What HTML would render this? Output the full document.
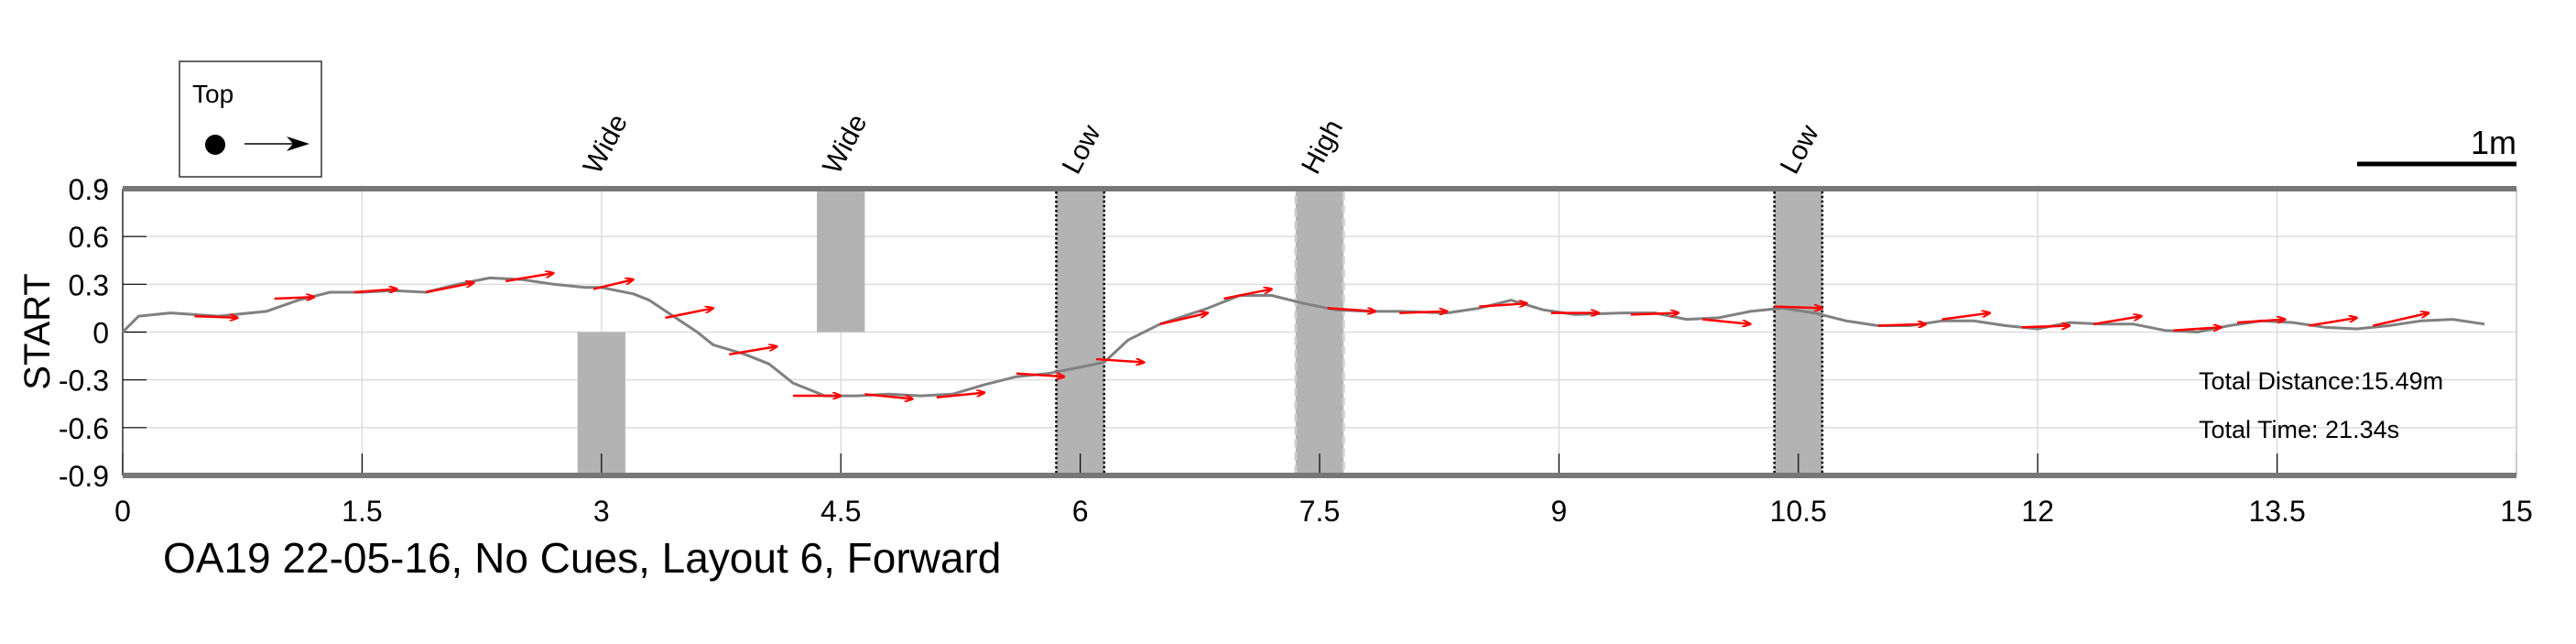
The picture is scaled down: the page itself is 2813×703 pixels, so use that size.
<!DOCTYPE html>
<html><head><meta charset="utf-8"><style>
html,body{margin:0;padding:0;background:#fff;}
svg{display:block;font-family:"Liberation Sans",sans-serif;}
</style></head><body>
<svg id="chart" width="2813" height="703" viewBox="0 0 2813 703">
</svg>
<script>
const xTicks=[0,1.5,3,4.5,6,7.5,9,10.5,12,13.5,15];
const xTickLabels=["0","1.5","3","4.5","6","7.5","9","10.5","12","13.5","15"];
const yTicks=[0.9,0.6,0.3,0,-0.3,-0.6,-0.9];
const yTickLabels=["0.9","0.6","0.3","0","-0.3","-0.6","-0.9"];
const pathX=[0,0.1,0.3,0.6,0.9,1.1,1.3,1.5,1.7,1.9,2.1,2.3,2.5,2.7,2.9,3.0,3.2,3.3,3.45,3.6,3.7,3.9,4.05,4.2,4.4,4.6,4.8,5.0,5.2,5.4,5.6,5.8,6.0,6.15,6.3,6.5,6.8,7.0,7.2,7.4,7.6,7.8,8.0,8.3,8.5,8.7,8.9,9.1,9.4,9.6,9.8,10.0,10.2,10.4,10.6,10.8,11.0,11.2,11.4,11.6,11.8,12.0,12.2,12.4,12.6,12.8,13.0,13.2,13.4,13.6,13.8,14.0,14.2,14.4,14.6,14.8];
const pathY=[0,0.1,0.12,0.1,0.13,0.2,0.25,0.25,0.26,0.25,0.3,0.34,0.33,0.3,0.28,0.28,0.24,0.2,0.1,0,-0.08,-0.14,-0.2,-0.32,-0.4,-0.4,-0.39,-0.4,-0.39,-0.33,-0.28,-0.26,-0.22,-0.19,-0.05,0.05,0.15,0.23,0.23,0.18,0.14,0.13,0.13,0.12,0.15,0.2,0.14,0.11,0.12,0.12,0.08,0.09,0.13,0.15,0.12,0.07,0.04,0.04,0.07,0.07,0.04,0.02,0.06,0.05,0.05,0.01,0.0,0.04,0.07,0.06,0.03,0.02,0.04,0.07,0.08,0.05];
const arrX0=[0.45,0.95,1.45,1.9,2.4,2.95,3.4,3.8,4.2,4.65,5.1,5.6,6.1,6.5,6.9,7.55,8.0,8.5,8.95,9.45,9.9,10.35,11.0,11.4,11.9,12.35,12.85,13.25,13.7,14.1];
const arrY0=[0.10,0.21,0.25,0.25,0.32,0.27,0.09,-0.14,-0.40,-0.39,-0.41,-0.26,-0.17,0.05,0.21,0.15,0.12,0.16,0.12,0.11,0.08,0.16,0.04,0.08,0.03,0.05,0.01,0.06,0.04,0.04];
const arrX1=[0.72,1.2,1.72,2.2,2.7,3.2,3.7,4.1,4.5,4.95,5.4,5.9,6.4,6.8,7.2,7.85,8.3,8.8,9.25,9.75,10.2,10.65,11.3,11.7,12.2,12.65,13.15,13.55,14.0,14.45];
const arrY1=[0.09,0.22,0.27,0.31,0.37,0.33,0.15,-0.09,-0.40,-0.42,-0.38,-0.28,-0.19,0.12,0.27,0.13,0.13,0.18,0.12,0.12,0.05,0.15,0.05,0.12,0.04,0.10,0.03,0.08,0.09,0.12];
const obsX=[3,4.5,6,7.5,10.5];
const obsY0=[-0.9,0,-0.9,-0.9,-0.9];
const obsY1=[0,0.9,0.9,0.9,0.9];
const obsLabels=["Wide","Wide","Low","High","Low"];
const obsStyle=["none","none","dotted","dashed","dotted"];

const NS="http://www.w3.org/2000/svg";
const svg=document.getElementById('chart');
const X0=134,X1=2748,YT=206,YB=519;
const sx=v=>X0+(v-0)/15*(X1-X0);
const sy=v=>YB-(v+0.9)/1.8*(YB-YT);
function mk(tag,attrs,parent){const e=document.createElementNS(NS,tag);for(const k in attrs)e.setAttribute(k,attrs[k]);(parent||svg).appendChild(e);return e;}

const defs=mk('defs',{});
const mrk=mk('marker',{id:'ah',markerWidth:'10',markerHeight:'8',refX:'9',refY:'4',orient:'auto',markerUnits:'userSpaceOnUse'},defs);
mk('path',{d:'M0,0 L10,4 L0,8',fill:'none',stroke:'#ff0000','stroke-width':'2'},mrk);

// grid
xTicks.forEach((t,i)=>{const g=mk('line',{x1:sx(t),x2:sx(t),y1:YT,y2:YB,stroke:'#dcdcdc','stroke-width':'1.5'});

});
yTicks.forEach((t,i)=>{const g=mk('line',{x1:X0,x2:X1,y1:sy(t),y2:sy(t),stroke:'#dcdcdc','stroke-width':'1.5'});

});

// obstacles
obsX.forEach((o,i)=>{
  const r=mk('rect',{x:sx(o-0.15),y:sy(obsY1[i]),width:sx(o+0.15)-sx(o-0.15),height:sy(obsY0[i])-sy(obsY1[i]),fill:'#b3b3b3'});
  if(obsStyle[i]==='dotted'){r.setAttribute('stroke','#000');r.setAttribute('stroke-width','2.5');r.setAttribute('stroke-dasharray','2.5,2.5');}
  if(obsStyle[i]==='dashed'){r.setAttribute('stroke','#cfcfcf');r.setAttribute('stroke-width','3');r.setAttribute('stroke-dasharray','9,5');}
  
  
  const lx=sx(o)-3, ly=192;
  const t=mk('text',{x:lx,y:ly,'font-size':'30',fill:'#000',transform:`rotate(-62 ${lx} ${ly})`});
  t.textContent=obsLabels[i];
  
  
});

// inner grid lines over obstacles (thin)
xTicks.forEach(t=>{mk('line',{x1:sx(t),x2:sx(t),y1:YB-24,y2:YB,stroke:'#000','stroke-width':'1.2'});});
yTicks.forEach(t=>{mk('line',{x1:X0,x2:X0+26,y1:sy(t),y2:sy(t),stroke:'#000','stroke-width':'1.2'});});

// axes
mk('line',{x1:X0,x2:X0,y1:YT,y2:YB,stroke:'#000','stroke-width':'1.2'});
mk('line',{x1:X1,x2:X1,y1:YT,y2:YB,stroke:'#cccccc','stroke-width':'1.5'});
const ta=mk('line',{x1:X0,x2:X1,y1:YT,y2:YT,stroke:'#777','stroke-width':'6'});

const ba=mk('line',{x1:X0,x2:X1,y1:YB,y2:YB,stroke:'#777','stroke-width':'6'});


// path
let d='';pathX.forEach((v,i)=>{d+=(i?'L':'M')+sx(v).toFixed(1)+','+sy(pathY[i]).toFixed(1);});
const p=mk('path',{d:d,fill:'none',stroke:'#808080','stroke-width':'3','stroke-linejoin':'round'});



// arrows
arrX0.forEach((v,i)=>{const a=mk('line',{x1:sx(v),y1:sy(arrY0[i]),x2:sx(arrX1[i]),y2:sy(arrY1[i]),stroke:'#ff0000','stroke-width':'2.5','marker-end':'url(#ah)'});

});

// tick labels
xTicks.forEach((t,i)=>{const e=mk('text',{x:sx(t),y:569,'font-size':'32','text-anchor':'middle',fill:'#000'});e.textContent=xTickLabels[i];

});
yTicks.forEach((t,i)=>{const e=mk('text',{x:119,y:sy(t)+12,'font-size':'32','text-anchor':'end',fill:'#000'});e.textContent=yTickLabels[i];

});
</script>
<script>
(function(){
const NS="http://www.w3.org/2000/svg";const svg=document.getElementById('chart');
function mk(tag,attrs){const e=document.createElementNS(NS,tag);for(const k in attrs)e.setAttribute(k,attrs[k]);svg.appendChild(e);return e;}
const yl=mk('text',{x:0,y:0,'font-size':'40','text-anchor':'middle',transform:'translate(54 362) rotate(-90)'});yl.textContent='START';


const tt=mk('text',{x:178,y:625,'font-size':'46'});tt.textContent='OA19 22-05-16, No Cues, Layout 6, Forward';


const lb=mk('rect',{x:196,y:67,width:155,height:126,fill:'#fff',stroke:'#333','stroke-width':'1.5'});


const lt=mk('text',{x:210,y:112,'font-size':'28'});lt.textContent='Top';


mk('ellipse',{cx:235,cy:158,rx:11,ry:11,fill:'#000'});
mk('line',{x1:267,y1:157,x2:328,y2:157,stroke:'#000','stroke-width':'1.5'});
mk('path',{d:'M313,149 L338,157 L313,165 L320,157 Z',fill:'#000'});
const sb=mk('line',{x1:2574,x2:2748,y1:179,y2:179,stroke:'#000','stroke-width':'5'});


const sm=mk('text',{x:2748,y:168,'font-size':'36','text-anchor':'end'});sm.textContent='1m';


const t1=mk('text',{x:2401,y:425,'font-size':'27'});t1.textContent='Total Distance:15.49m';


const t2=mk('text',{x:2401,y:478,'font-size':'27'});t2.textContent='Total Time: 21.34s';


})();
</script>
</body></html>
